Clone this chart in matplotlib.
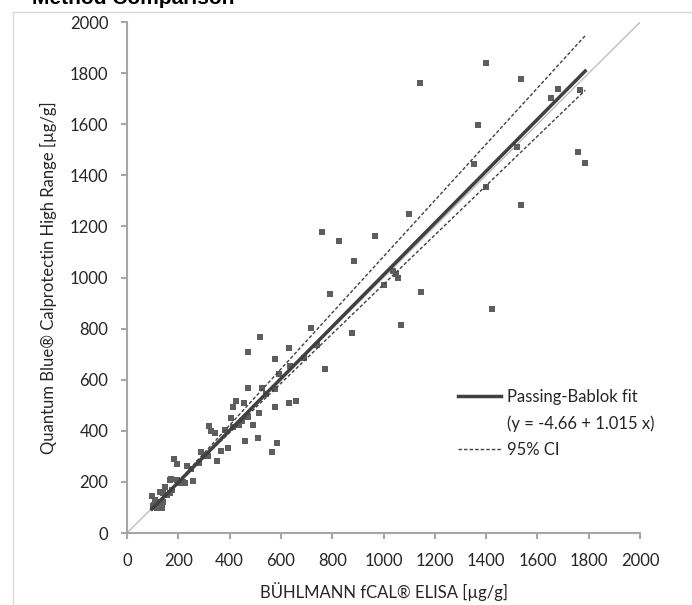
import matplotlib.pyplot as plt
import numpy as np
from matplotlib.lines import Line2D

plt.rcParams["font.family"] = ["Lato", "DejaVu Sans"]

# BÜHLMANN fCAL ELISA (x) vs Quantum Blue Calprotectin High Range (y), µg/g
elisa = [
    1144, 1398, 1534, 1679, 1651, 1766, 1367, 1522, 1757, 1786, 1352, 1398, 1534, 1100,
    1036, 1050, 1058, 1003, 1146, 1068, 1424, 967, 827, 885, 876, 791, 760,
    717, 630, 578, 636, 594, 772, 520, 471, 742, 690,
    473, 526, 577, 456, 425, 412, 577, 630, 659, 516, 404, 473, 493, 437, 414,
    319, 328, 343, 382, 511, 461, 584, 564, 394, 367, 351, 289, 315, 540, 450,
    183, 194, 235, 259, 226, 206, 168, 194, 219, 172, 98, 129, 142, 155, 168, 174,
    106, 116, 129, 135, 100, 125, 140, 110, 150, 250, 280, 300,
]
quantum = [
    1762, 1840, 1777, 1738, 1704, 1734, 1596, 1511, 1492, 1447, 1444, 1353, 1283, 1248,
    1027, 1015, 999, 969, 944, 814, 876, 1164, 1144, 1066, 784, 936, 1180,
    801, 726, 680, 654, 622, 642, 768, 708, 736, 684,
    569, 569, 563, 510, 516, 494, 494, 510, 518, 471, 451, 455, 423, 423, 416,
    419, 399, 393, 403, 373, 359, 351, 316, 331, 321, 283, 318, 302, 545, 440,
    290, 272, 262, 204, 195, 197, 207, 207, 201, 210, 145, 162, 156, 149, 155, 168,
    110, 97, 123, 97, 107, 106, 120, 130, 180, 250, 275, 300,
]

# Passing-Bablok fit and 95% CI lines (intercept, slope)
fit_coef = (-4.66, 1.015)
ci_upper_coef = (-18.0, 1.100)
ci_lower_coef = (6.0, 0.967)
fit_range = [97, 1786]

ticks = np.arange(0, 2001, 200)

fig = plt.figure(figsize=(6.92, 6.05), dpi=100)
ax = fig.add_axes([0.1835, 0.119, 0.7415, 0.8446])

# light frame of the original figure box
fig.add_artist(Line2D([13 / 692, 1.0], [1 - 12 / 605, 1 - 12 / 605],
                      transform=fig.transFigure, color="#d9d9d9", lw=1))
fig.add_artist(Line2D([13 / 692, 13 / 692], [0.0, 1 - 12 / 605],
                      transform=fig.transFigure, color="#d9d9d9", lw=1))
fig.text(32 / 692, 1 - 4 / 605, "Method Comparison", fontsize=15, fontweight="bold",
         family=["Liberation Sans", "DejaVu Sans"], va="baseline", ha="left")

ax.plot([0, 2000], [0, 2000], color="#bfbfbf", lw=1, zorder=1)

xs = np.array(fit_range, dtype=float)
fit_line, = ax.plot(xs, fit_coef[0] + fit_coef[1] * xs, color="#404040", lw=2.5, zorder=3)
ci_line, = ax.plot(xs, ci_upper_coef[0] + ci_upper_coef[1] * xs, color="#404040", lw=1,
                   ls=(0, (2.5, 1.5)), zorder=3)
ax.plot(xs, ci_lower_coef[0] + ci_lower_coef[1] * xs, color="#404040", lw=1,
        ls=(0, (2.5, 1.5)), zorder=3)

ax.scatter(elisa, quantum, marker="s", s=24, color="#5e5e5e", linewidths=0, zorder=2)

ax.set_xlim(0, 2000)
ax.set_ylim(0, 2000)
ax.set_xticks(ticks)
ax.set_yticks(ticks)
for side in ["top", "right"]:
    ax.spines[side].set_visible(False)
for side in ["left", "bottom"]:
    ax.spines[side].set_color("#a6a6a6")
    ax.spines[side].set_linewidth(1.5)
ax.tick_params(axis="both", direction="out", length=4.5, width=1.5, color="#a6a6a6",
               labelsize=12, labelcolor="#262626")
ax.tick_params(axis="y", pad=9)
ax.tick_params(axis="x", pad=10)

ax.set_xlabel("BÜHLMANN fCAL® ELISA [µg/g]", fontsize=12, color="#262626", labelpad=9)
ax.set_ylabel("Quantum Blue® Calprotectin High Range [µg/g]", fontsize=12,
              color="#262626", labelpad=9)

blank = Line2D([], [], color="none")
leg = ax.legend([fit_line, blank, ci_line],
                ["Passing-Bablok fit", "(y = -4.66 + 1.015 x)", "95% CI"],
                loc="upper left", bbox_to_anchor=(458 / 692, 1 - 389 / 605),
                bbox_transform=fig.transFigure, frameon=False, fontsize=12,
                handlelength=2.6, handletextpad=0.35, borderpad=0, borderaxespad=0,
                labelspacing=0.62, labelcolor="#262626")

fig.savefig("out.png", dpi=100)
